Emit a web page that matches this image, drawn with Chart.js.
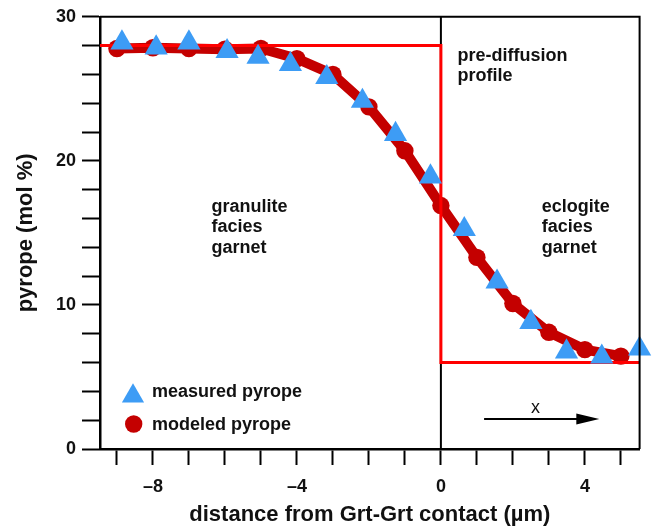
<!DOCTYPE html>
<html>
<head>
<meta charset="utf-8">
<script src="https://cdn.jsdelivr.net/npm/chart.js@4.4.1/dist/chart.umd.min.js"></script>
<style>
  html, body { margin: 0; padding: 0; background: #ffffff; }
  #wrap { width: 653px; height: 528px; }
</style>
</head>
<body>
<div id="wrap"><canvas id="chart" width="653" height="528"></canvas></div>
<script>
// Axis extent and tick marks
const xMin = -9.47;
const xMax = 5.52;
const xTickValues = [-9, -8, -7, -6, -5, -4, -3, -2, -1, 0, 1, 2, 3, 4, 5];
const xTickLabels = [-8, -4, 0, 4];
const yTickValues = [0, 2, 4, 6, 8, 10, 12, 14, 16, 18, 20, 22, 24, 26, 28, 30];
const yTickLabels = [0, 10, 20, 30];

// Measured pyrope across the garnet-garnet contact (mol %)
const measuredX = [-8.86, -7.91, -7.0, -5.94, -5.08, -4.18, -3.17, -2.18, -1.26, -0.29, 0.65, 1.56, 2.50, 3.49, 4.47, 5.52];
const measuredY = [28.2, 27.85, 28.2, 27.6, 27.2, 26.7, 25.8, 24.15, 21.85, 18.9, 15.25, 11.6, 8.8, 6.75, 6.4, 6.95];

// Diffusion model result
const modeledX = [-9, -8, -7, -6, -5, -4, -3, -2, -1, 0, 1, 2, 3, 4, 5];
const modeledY = [27.8, 27.85, 27.8, 27.75, 27.8, 27.1, 26.0, 23.75, 20.7, 16.9, 13.3, 10.1, 8.1, 6.9, 6.45];

// Step-shaped initial (pre-diffusion) profile
const profileX = [xMin, 0, 0, xMax];
const profileY = [28, 28, 6, 6];

// Grain contact
const contactX = [0, 0];
const contactY = [0, 30];

const FONT = "'Liberation Sans', Arial, Helvetica, sans-serif";
const BLUE = '#3d9cf5';
const DARK_RED = '#c40000';
const RED = '#ff0000';

const toPoints = (xs, ys) => xs.map((x, i) => ({ x: x, y: ys[i] }));

// Text labels inside the plot, anchored in data units (left edge, baseline)
const regionNotes = [
  { lines: ['granulite', 'facies', 'garnet'], x: -6.37, y: 16.44 },
  { lines: ['pre-diffusion', 'profile'], x: 0.46, y: 26.95 },
  { lines: ['eclogite', 'facies', 'garnet'], x: 2.8, y: 16.44 }
];

const decorations = {
  id: 'decorations',
  afterDatasetsDraw(chart) {
    const { ctx, chartArea: a, scales: { x, y } } = chart;
    ctx.save();

    // frame: top and right sides
    ctx.strokeStyle = '#000';
    ctx.lineWidth = 2;
    ctx.beginPath();
    ctx.moveTo(a.left, a.top);
    ctx.lineTo(a.right, a.top);
    ctx.lineTo(a.right, a.bottom);
    ctx.stroke();

    // region notes
    ctx.fillStyle = '#111';
    ctx.font = 'bold 18px ' + FONT;
    ctx.textAlign = 'left';
    ctx.textBaseline = 'alphabetic';
    regionNotes.forEach(n => {
      const px = x.getPixelForValue(n.x);
      const py = y.getPixelForValue(n.y);
      n.lines.forEach((t, i) => ctx.fillText(t, px, py + i * 20.3));
    });

    // direction arrow with "x"
    const ay = y.getPixelForValue(2.08);
    const ax0 = x.getPixelForValue(1.2);
    const ax1 = x.getPixelForValue(4.4);
    ctx.strokeStyle = '#000';
    ctx.lineWidth = 2;
    ctx.beginPath();
    ctx.moveTo(ax0, ay);
    ctx.lineTo(ax1 - 18, ay);
    ctx.stroke();
    ctx.fillStyle = '#000';
    ctx.beginPath();
    ctx.moveTo(ax1, ay);
    ctx.lineTo(ax1 - 23, ay - 5.5);
    ctx.lineTo(ax1 - 23, ay + 5.5);
    ctx.closePath();
    ctx.fill();
    ctx.font = '18px ' + FONT;
    ctx.textAlign = 'center';
    ctx.fillStyle = '#111';
    ctx.fillText('x', x.getPixelForValue(2.63), y.getPixelForValue(2.47));

    // legend
    const lx = a.left + 33;
    const ly1 = a.bottom - 53;
    const ly2 = a.bottom - 25;
    const r = 12.8;
    ctx.fillStyle = BLUE;
    ctx.beginPath();
    ctx.moveTo(lx, ly1 - r);
    ctx.lineTo(lx + r * Math.sqrt(3) / 2, ly1 + r / 2);
    ctx.lineTo(lx - r * Math.sqrt(3) / 2, ly1 + r / 2);
    ctx.closePath();
    ctx.fill();
    ctx.fillStyle = DARK_RED;
    ctx.beginPath();
    ctx.arc(lx + 0.7, ly2, 8.7, 0, Math.PI * 2);
    ctx.fill();
    ctx.fillStyle = '#111';
    ctx.font = 'bold 18px ' + FONT;
    ctx.textAlign = 'left';
    ctx.fillText('measured pyrope', lx + 19, ly1 + 1);
    ctx.fillText('modeled pyrope', lx + 19, ly2 + 6);

    ctx.restore();
  }
};

new Chart(document.getElementById('chart'), {
  type: 'scatter',
  data: {
    datasets: [
      {
        label: 'measured pyrope',
        data: toPoints(measuredX, measuredY),
        order: 0,
        showLine: false,
        pointStyle: 'triangle',
        pointRadius: 13.4,
        pointBackgroundColor: BLUE,
        pointBorderWidth: 0,
        clip: false
      },
      {
        label: 'pre-diffusion profile',
        data: toPoints(profileX, profileY),
        order: 1,
        showLine: true,
        borderColor: RED,
        borderWidth: 3,
        pointRadius: 0,
        tension: 0
      },
      {
        label: 'modeled pyrope',
        data: toPoints(modeledX, modeledY),
        order: 2,
        showLine: true,
        borderColor: DARK_RED,
        borderWidth: 10,
        borderJoinStyle: 'round',
        borderCapStyle: 'round',
        tension: 0,
        pointRadius: 8.7,
        pointBackgroundColor: DARK_RED,
        pointBorderWidth: 0,
        clip: false
      },
      {
        label: 'contact',
        data: toPoints(contactX, contactY),
        order: 3,
        showLine: true,
        borderColor: '#000',
        borderWidth: 2,
        pointRadius: 0
      }
    ]
  },
  options: {
    responsive: false,
    animation: false,
    devicePixelRatio: 1,
    layout: { padding: { left: 0, right: 12, top: 16, bottom: 0 } },
    plugins: {
      legend: { display: false },
      tooltip: { enabled: false }
    },
    scales: {
      x: {
        type: 'linear',
        min: xMin,
        max: xMax,
        afterBuildTicks: s => { s.ticks = xTickValues.map(v => ({ value: v })); },
        afterFit: s => { s.height = 79; },
        ticks: {
          autoSkip: false,
          maxRotation: 0,
          padding: 11,
          color: '#111',
          font: { family: FONT, size: 18, weight: 'bold' },
          callback: v => xTickLabels.includes(v) ? (v < 0 ? '\u2013' + Math.abs(v) : String(v)) : ''
        },
        grid: { drawOnChartArea: false, drawTicks: true, tickLength: 16, tickWidth: 2, tickColor: '#000' },
        border: { display: true, color: '#000', width: 2.5 },
        title: {
          display: true,
          text: 'distance from Grt-Grt contact (µm)',
          color: '#111',
          font: { family: FONT, size: 22, weight: 'bold' },
          padding: { top: 0, bottom: 0 }
        }
      },
      y: {
        type: 'linear',
        min: 0,
        max: 30,
        afterBuildTicks: s => { s.ticks = yTickValues.map(v => ({ value: v })); },
        afterFit: s => { s.width = 100; },
        ticks: {
          autoSkip: false,
          padding: 6,
          color: '#111',
          font: { family: FONT, size: 18, weight: 'bold' },
          callback: v => yTickLabels.includes(v) ? String(v) : ''
        },
        grid: { drawOnChartArea: false, drawTicks: true, tickLength: 18, tickWidth: 2, tickColor: '#000' },
        border: { display: true, color: '#000', width: 2.5 },
        title: {
          display: true,
          text: 'pyrope (mol %)',
          color: '#111',
          font: { family: FONT, size: 22, weight: 'bold' },
          padding: { top: 13, bottom: 0 }
        }
      }
    }
  },
  plugins: [decorations]
});
</script>
</body>
</html>
